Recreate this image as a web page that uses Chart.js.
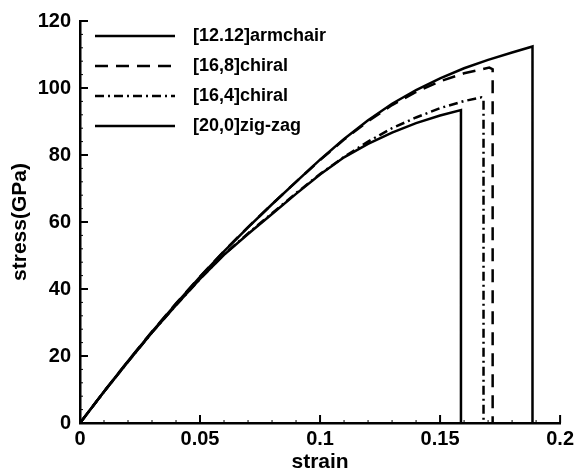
<!DOCTYPE html>
<html>
<head>
<meta charset="utf-8">
<script src="https://cdn.jsdelivr.net/npm/chart.js@4"></script>
<style>
  body { margin: 0; background: #fff; }
  #wrap { width: 578px; height: 476px; }
</style>
</head>
<body>
<div id="wrap"><canvas id="myChart"></canvas></div>
<script>
// series names
var names = ['[12.12]armchair', '[16,8]chiral', '[16,4]chiral', '[20,0]zig-zag'];

// [12,12] armchair
var armStrain = [0, 0.01, 0.02, 0.03, 0.04, 0.05, 0.06, 0.07, 0.08, 0.09, 0.1, 0.11, 0.12, 0.13, 0.14, 0.15, 0.16, 0.17, 0.18, 0.1885, 0.1885];
var armStress = [0, 9.4, 18.5, 27.2, 35.6, 43.6, 51.2, 58.4, 65.3, 72.0, 78.6, 84.8, 90.4, 95.3, 99.4, 102.9, 105.9, 108.4, 110.6, 112.4, 0];

// [16,8] chiral
var c168Strain = [0, 0.01, 0.02, 0.03, 0.04, 0.05, 0.06, 0.07, 0.08, 0.09, 0.1, 0.11, 0.12, 0.13, 0.14, 0.15, 0.16, 0.1705, 0.1719, 0.1719];
var c168Stress = [0, 9.4, 18.5, 27.3, 35.7, 43.7, 51.3, 58.5, 65.3, 72.0, 78.5, 84.6, 90.1, 94.9, 98.8, 102.0, 104.4, 106.1, 105.6, 0];

// [16,4] chiral
var c164Strain = [0, 0.01, 0.02, 0.03, 0.04, 0.05, 0.06, 0.07, 0.08, 0.09, 0.1, 0.11, 0.12, 0.13, 0.14, 0.15, 0.16, 0.1672, 0.1681, 0.1681];
var c164Stress = [0, 9.3, 18.3, 27.0, 35.2, 43.0, 50.3, 56.6, 62.6, 68.6, 74.3, 79.4, 84.0, 88.0, 91.2, 94.0, 96.1, 97.2, 96.8, 0];

// [20,0] zig-zag
var zzStrain = [0, 0.01, 0.02, 0.03, 0.04, 0.05, 0.06, 0.07, 0.08, 0.09, 0.1, 0.11, 0.12, 0.13, 0.14, 0.15, 0.1587, 0.1587];
var zzStress = [0, 9.3, 18.3, 27.0, 35.2, 43.0, 50.2, 56.4, 62.4, 68.4, 74.2, 79.3, 83.3, 86.7, 89.5, 91.8, 93.4, 0];

// axis ticks
var xTicks = [0, 0.05, 0.1, 0.15, 0.2];
var yTicks = [0, 20, 40, 60, 80, 100, 120];

function pts(xs, ys) {
    var out = [];
    for (var i in xs) {
        out.push({x: xs[i], y: ys[i]});
    }
    return out;
}

var fontFam = '"Liberation Sans", Arial, Helvetica, sans-serif';

// inside tick marks, like the original plot
var tickMarks = {
    id: 'tickMarks',
    afterDraw: function(chart) {
        var ctx = chart.ctx;
        var xs = chart.scales.x, ys = chart.scales.y;
        var a = chart.chartArea;
        ctx.save();
        ctx.strokeStyle = '#000';
        // x minor + major
        for (var k = 0; k <= 20; k++) {
            var px = xs.getPixelForValue(k * 0.01);
            var major = (k % 5 === 0);
            ctx.lineWidth = major ? 2 : 1;
            ctx.beginPath();
            ctx.moveTo(px, a.bottom);
            ctx.lineTo(px, a.bottom - (major ? 8 : 3));
            ctx.stroke();
        }
        // y minor + major
        for (var j = 0; j <= 30; j++) {
            var py = ys.getPixelForValue(j * 4);
            var maj = (j % 5 === 0);
            ctx.lineWidth = maj ? 2 : 1;
            ctx.beginPath();
            ctx.moveTo(a.left, py);
            ctx.lineTo(a.left + (maj ? 8 : 3), py);
            ctx.stroke();
        }
        ctx.restore();
    }
};

// legend drawn inside the plot, top left
var innerLegend = {
    id: 'innerLegend',
    afterDraw: function(chart) {
        var ctx = chart.ctx;
        var a = chart.chartArea;
        ctx.save();
        ctx.font = 'bold 18px ' + fontFam;
        ctx.textBaseline = 'middle';
        ctx.fillStyle = '#000';
        chart.data.datasets.forEach(function(ds, i) {
            var y = a.top + 15 + i * 30;
            ctx.strokeStyle = '#000';
            ctx.lineWidth = ds.borderWidth;
            ctx.setLineDash(ds.borderDash || []);
            ctx.beginPath();
            ctx.moveTo(a.left + 15, y);
            ctx.lineTo(a.left + 95, y);
            ctx.stroke();
            ctx.setLineDash([]);
            ctx.fillText(ds.label, a.left + 113, y);
        });
        ctx.restore();
    }
};

var ctx = document.getElementById('myChart');
var chart = new Chart(ctx, {
    type: 'line',
    data: {
        datasets: [{
            label: names[0],
            data: pts(armStrain, armStress),
            borderColor: '#000',
            borderWidth: 2.5,
            borderDash: []
        }, {
            label: names[1],
            data: pts(c168Strain, c168Stress),
            borderColor: '#000',
            borderWidth: 2.5,
            borderDash: [13, 8]
        }, {
            label: names[2],
            data: pts(c164Strain, c164Stress),
            borderColor: '#000',
            borderWidth: 2.5,
            borderDash: [9, 4, 2, 4]
        }, {
            label: names[3],
            data: pts(zzStrain, zzStress),
            borderColor: '#000',
            borderWidth: 2.5,
            borderDash: []
        }]
    },
    options: {
        responsive: true,
        maintainAspectRatio: false,
        animation: false,
        elements: {
            point: { radius: 0 },
            line: { tension: 0, fill: false }
        },
        layout: { padding: { left: 0, top: 20, right: 17, bottom: 0 } },
        plugins: {
            legend: { display: false },
            tooltip: { enabled: false }
        },
        scales: {
            x: {
                type: 'linear',
                min: 0,
                max: 0.2,
                afterFit: function(s) { s.height = 53; },
                afterBuildTicks: function(s) { s.ticks = xTicks.map(function(v) { return {value: v}; }); },
                grid: { display: false, drawTicks: false },
                border: { display: true, color: '#000', width: 2.5 },
                ticks: {
                    padding: 4,
                    color: '#000',
                    font: { family: fontFam, size: 20, weight: 'bold' },
                    callback: function(v) { return String(+v.toFixed(2)); }
                },
                title: {
                    display: true,
                    text: 'strain',
                    color: '#000',
                    padding: { top: 0, bottom: 1 },
                    font: { family: fontFam, size: 21, weight: 'bold' }
                }
            },
            y: {
                min: 0,
                max: 120,
                afterFit: function(s) { s.width = 80; },
                afterBuildTicks: function(s) { s.ticks = yTicks.map(function(v) { return {value: v}; }); },
                grid: { display: false, drawTicks: false },
                border: { display: true, color: '#000', width: 2.5 },
                ticks: {
                    padding: 9,
                    color: '#000',
                    font: { family: fontFam, size: 20, weight: 'bold' }
                },
                title: {
                    display: true,
                    text: 'stress(GPa)',
                    color: '#000',
                    padding: { top: 8, bottom: 0 },
                    font: { family: fontFam, size: 21, weight: 'bold' }
                }
            }
        }
    },
    plugins: [tickMarks, innerLegend]
});
</script>
</body>
</html>
